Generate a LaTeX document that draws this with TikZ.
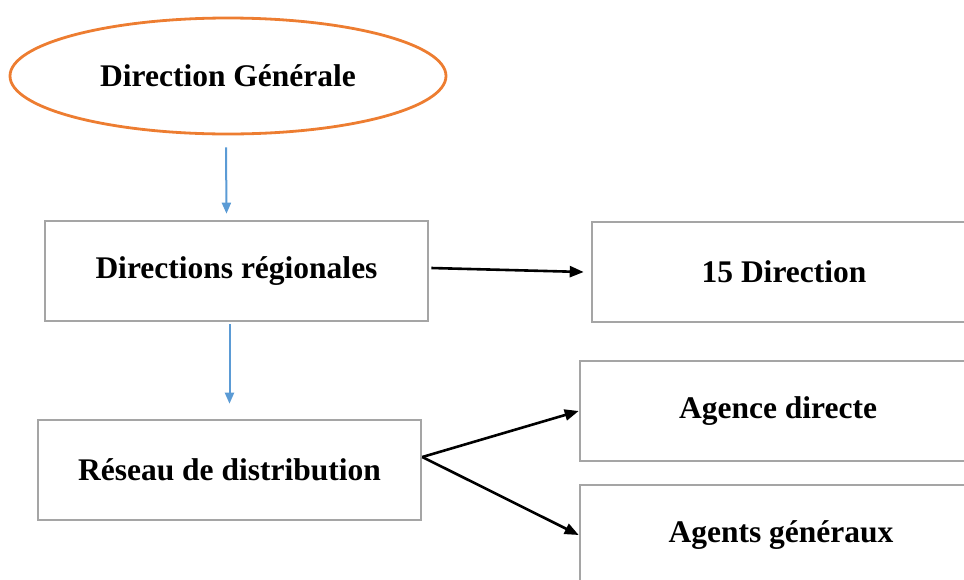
\documentclass[tikz,border=0pt]{standalone}
\usepackage{fontspec}
\setmainfont{Liberation Serif}
\usepackage{xcolor}
\usepackage{tikz}
\usetikzlibrary{shapes,arrows.meta,calc}

\definecolor{orgOrange}{HTML}{ED7D31}
\definecolor{orgBlue}{HTML}{5B9BD5}
\definecolor{orgGray}{HTML}{A5A5A5}

\begin{document}
\begin{tikzpicture}[x=1pt, y=-1pt,
        unit/.style={draw=orgGray, line width=2.6pt, minimum width=383pt,
                minimum height=100pt, inner sep=0pt,
                font=\fontsize{31.5}{36}\selectfont\bfseries},
        head/.style={ellipse, draw=orgOrange, line width=2.8pt,
                minimum width=436pt, minimum height=116pt, inner sep=0pt,
                font=\fontsize{31.5}{36}\selectfont\bfseries},
        blueflow/.style={draw=orgBlue, line width=2pt,
                -{Triangle[length=11pt,width=9pt]}},
        blackflow/.style={draw=black, line width=2.6pt,
                -{Triangle[length=14pt,width=11pt]}}]
        \useasboundingbox (0,0) rectangle (964,579);
        \clip (0,0) rectangle (964,579);

        % Head office
        \node[head] (dg) at (228,76) {Direction Générale};

        % Left column
        \node[unit] (dr) at (236.5,271) {Directions régionales};
        \node[unit] (rd) at (229.5,470) {Réseau de distribution};

        % Right column (cut at the page edge)
        \node[unit, minimum width=384pt] (dir) at (784,272) {15 Direction};
        \node[unit, minimum width=396pt] (ad) at (778,411) {Agence directe};
        \node[unit, minimum width=402pt] (ag) at (781,535) {Agents généraux};

        % Links
        \draw[blueflow] ([xshift=-2pt,yshift=-12pt]dg.south) -- ([xshift=-10pt,yshift=6pt]dr.north);
        \draw[blueflow] ([xshift=-7pt,yshift=-2pt]dr.south) -- ([yshift=15pt]rd.north);
        \draw[blackflow] ([xshift=2pt,yshift=3pt]dr.east) -- ([xshift=-7pt]dir.west);
        \draw[blackflow] ([yshift=13pt]rd.east) -- (ad.west);
        \draw[blackflow] ([yshift=13pt]rd.east) -- (ag.west);

\end{tikzpicture}
\end{document}
